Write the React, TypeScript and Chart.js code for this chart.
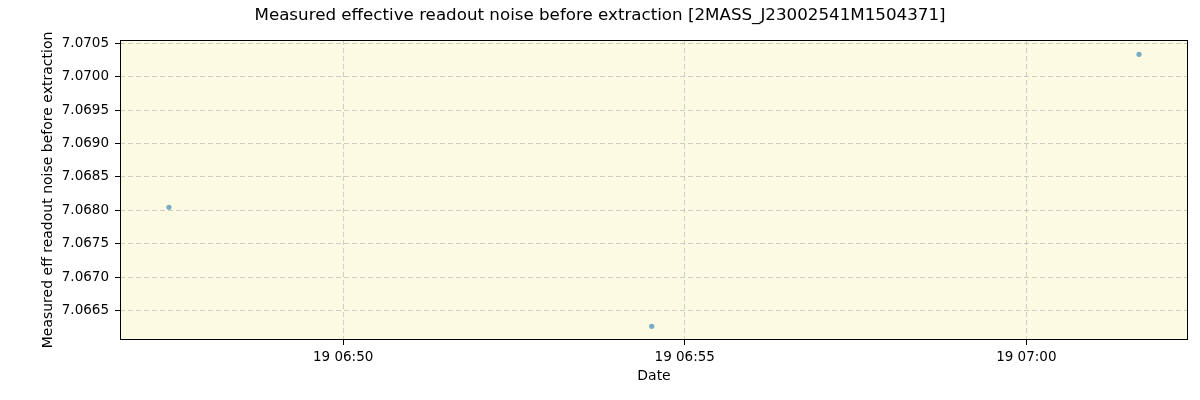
import { useRef, useEffect } from 'react'
import { Chart, registerables } from 'chart.js'

Chart.register(...registerables)

// observation times, seconds after 06:00 on the 19th
const TIMES = [2847, 3271, 3699]
const NOISE = [7.068045, 7.066263, 7.070335]

const X_TICKS = [3000, 3300, 3600]
const Y_TICKS = [7.0665, 7.067, 7.0675, 7.068, 7.0685, 7.069, 7.0695, 7.07, 7.0705]

const X_MIN = 2804
const X_MAX = 3742
const Y_MIN = 7.066058
const Y_MAX = 7.070549

const TITLE = 'Measured effective readout noise before extraction [2MASS_J23002541M1504371]'
const FONT = 'DejaVu Sans'

function fmtTime(sec: number) {
  const h = 6 + Math.floor(sec / 3600)
  const m = Math.floor((sec % 3600) / 60)
  return `19 ${String(h).padStart(2, '0')}:${String(m).padStart(2, '0')}`
}

const framePlugin = {
  id: 'frame',
  beforeDraw(chart: Chart) {
    const { ctx, chartArea: a } = chart
    ctx.save()
    ctx.fillStyle = '#fcfae2'
    ctx.fillRect(a.left, a.top, a.right - a.left, a.bottom - a.top)
    ctx.restore()
  },
  afterDraw(chart: Chart) {
    const { ctx, chartArea: a } = chart
    ctx.save()
    ctx.strokeStyle = '#000'
    ctx.lineWidth = 1
    ctx.strokeRect(a.left + 0.5, a.top + 0.5, a.right - a.left - 1, a.bottom - a.top - 1)
    ctx.fillStyle = '#000'
    ctx.font = `16.7px "${FONT}"`
    ctx.textAlign = 'center'
    ctx.textBaseline = 'middle'
    ctx.fillText(TITLE, 600, 16)
    ctx.restore()
  },
}

export default function App() {
  const canvasRef = useRef<HTMLCanvasElement>(null)
  const chartRef = useRef<Chart | null>(null)

  useEffect(() => {
    document.body.style.margin = '0'
    if (!canvasRef.current) return
    chartRef.current?.destroy()

    chartRef.current = new Chart(canvasRef.current, {
      type: 'scatter',
      data: {
        datasets: [
          {
            data: TIMES.map((t, i) => ({ x: t, y: NOISE[i] })),
            backgroundColor: 'rgba(31,119,180,0.6)',
            borderColor: 'rgba(31,119,180,0.6)',
            borderWidth: 0,
            pointRadius: 2.6,
          },
        ],
      },
      options: {
        animation: false,
        responsive: false,
        layout: { padding: { top: 40, right: 12, left: 0, bottom: 0 } },
        plugins: {
          legend: { display: false },
          tooltip: { enabled: false },
        },
        scales: {
          x: {
            type: 'linear',
            min: X_MIN,
            max: X_MAX,
            afterFit: (s: any) => { s.height = 60 },
            afterBuildTicks: (s: any) => { s.ticks = X_TICKS.map((v) => ({ value: v })) },
            grid: {
              color: 'rgba(176,176,176,0.6)',
              tickColor: '#000',
              tickLength: 5,
              tickWidth: 1,
              tickBorderDash: [],
            },
            border: { display: false, dash: [5, 3] },
            ticks: {
              color: '#000',
              padding: 4,
              maxRotation: 0,
              font: { family: FONT, size: 13.5 },
              callback: (v: any) => fmtTime(Number(v)),
            },
            title: {
              display: true,
              text: 'Date',
              color: '#000',
              padding: { top: 0, bottom: 15 },
              font: { family: FONT, size: 14 },
            },
          },
          y: {
            type: 'linear',
            min: Y_MIN,
            max: Y_MAX,
            afterFit: (s: any) => { s.width = 120 },
            afterBuildTicks: (s: any) => { s.ticks = Y_TICKS.map((v) => ({ value: v })) },
            grid: {
              color: 'rgba(176,176,176,0.6)',
              tickColor: '#000',
              tickLength: 5,
              tickWidth: 1,
              tickBorderDash: [],
            },
            border: { display: false, dash: [5, 3] },
            ticks: {
              color: '#000',
              padding: 6,
              font: { family: FONT, size: 13.5 },
              callback: (v: any) => Number(v).toFixed(4),
            },
            title: {
              display: true,
              text: 'Measured eff readout noise before extraction',
              color: '#000',
              padding: { top: 40, bottom: 0 },
              font: { family: FONT, size: 14 },
            },
          },
        },
      },
      plugins: [framePlugin],
    })

    return () => {
      chartRef.current?.destroy()
      chartRef.current = null
    }
  }, [])

  return (
    <div style={{ width: 1200, height: 400 }}>
      <canvas ref={canvasRef} width={1200} height={400} />
    </div>
  )
}
